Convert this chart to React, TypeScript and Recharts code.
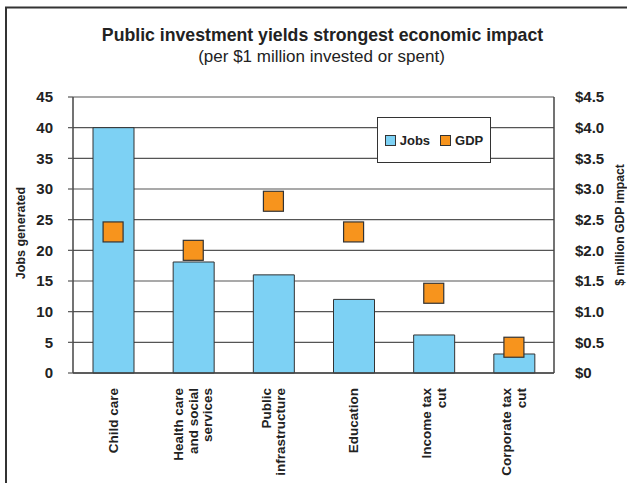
import React from "react";
import { ComposedChart, Bar, Line, XAxis, YAxis, CartesianGrid, Legend } from "recharts";

const CATEGORIES = [
  ["Child care"],
  ["Health care", "and social", "services"],
  ["Public", "infrastructure"],
  ["Education"],
  ["Income tax", "cut"],
  ["Corporate tax", "cut"],
];
const JOBS = [40, 18.1, 16, 12, 6.2, 3.1];
const GDP = [2.3, 2.0, 2.8, 2.3, 1.3, 0.42];
const JOBS_TICKS = [0, 5, 10, 15, 20, 25, 30, 35, 40, 45];
const GDP_TICKS = [0, 0.5, 1, 1.5, 2, 2.5, 3, 3.5, 4, 4.5];

const FONT = '"Liberation Sans", Arial, Helvetica, sans-serif';
const BLUE = "#7dd1f4";
const ORANGE = "#f7941d";
const INK = "#222";

const data = CATEGORIES.map((lines, i) => ({
  name: lines.join(" "),
  lines,
  jobs: JOBS[i],
  gdp: GDP[i],
}));

function CategoryTick(props: any) {
  const { x, payload, index } = props;
  const lines: string[] = data[index]?.lines ?? [payload.value];
  const y = 388;
  const step = 14.5;
  return (
    <g transform={`translate(${x},${y}) rotate(-90)`}>
      {lines.map((ln, i) => (
        <text
          key={i}
          x={0}
          y={(i - (lines.length - 1) / 2) * step}
          textAnchor="end"
          dominantBaseline="central"
          fontFamily={FONT}
          fontWeight="bold"
          fontSize={13.5}
          fill={INK}
        >
          {ln}
        </text>
      ))}
    </g>
  );
}

function SquareDot(props: any) {
  const { cx, cy } = props;
  if (cx == null || cy == null) return null;
  return <rect x={cx - 10} y={cy - 10} width={20} height={20} fill={ORANGE} stroke="#333" strokeWidth={1.2} />;
}

function LegendBox() {
  return (
    <div
      style={{
        width: 112,
        height: 44,
        border: "1px solid #333",
        background: "#fff",
        display: "flex",
        alignItems: "center",
        justifyContent: "center",
        fontFamily: FONT,
        fontWeight: "bold",
        fontSize: 13,
        color: INK,
        boxSizing: "content-box",
      }}
    >
      <span style={{ width: 9, height: 9, background: BLUE, border: "1px solid #333", marginRight: 4 }} />
      <span style={{ marginRight: 10 }}>Jobs</span>
      <span style={{ width: 9, height: 9, background: ORANGE, border: "1px solid #333", marginRight: 4 }} />
      <span>GDP</span>
    </div>
  );
}

export default function App() {
  return (
    <div style={{ position: "absolute", left: 0, top: 0, width: 627, height: 483, background: "#fff" }}>
      <ComposedChart width={627} height={483} data={data} margin={{ top: 97, right: 0, bottom: 0, left: 0 }}>
        <CartesianGrid vertical={false} stroke="#555" strokeWidth={1.2} yAxisId="jobs" />
        <XAxis
          dataKey="name"
          height={110}
          tickLine={false}
          axisLine={{ stroke: "#444", strokeWidth: 1.5 }}
          tick={<CategoryTick />}
          interval={0}
        />
        <YAxis
          yAxisId="jobs"
          orientation="left"
          width={73}
          domain={[0, 45]}
          ticks={JOBS_TICKS}
          interval={0}
          tickSize={5}
          tickMargin={15}
          tickLine={{ stroke: "#555", strokeWidth: 1.2 }}
          axisLine={{ stroke: "#444", strokeWidth: 1.5 }}
          tick={{ fontFamily: FONT, fontWeight: "bold", fontSize: 15, fill: INK }}
        />
        <YAxis
          yAxisId="gdp"
          orientation="right"
          width={73}
          domain={[0, 4.5]}
          ticks={GDP_TICKS}
          interval={0}
          tickSize={0}
          tickMargin={21}
          tickLine={false}
          axisLine={{ stroke: "#444", strokeWidth: 1.5 }}
          tickFormatter={(v: number) => (v === 0 ? "$0" : "$" + v.toFixed(1))}
          tick={{ fontFamily: FONT, fontWeight: "bold", fontSize: 15, fill: INK, textAnchor: "start" }}
        />
        <Legend
          layout="horizontal"
          verticalAlign="middle"
          align="center"
          content={() => <LegendBox />}
          wrapperStyle={{ left: 377, top: 117, width: 114, height: 46 }}
        />
        <Bar yAxisId="jobs" dataKey="jobs" barSize={41} fill={BLUE} stroke="#333" strokeWidth={1} isAnimationActive={false} />
        <Line
          yAxisId="gdp"
          dataKey="gdp"
          stroke="none"
          dot={<SquareDot />}
          activeDot={false}
          isAnimationActive={false}
        />
      </ComposedChart>
      <svg width={627} height={483} style={{ position: "absolute", left: 0, top: 0, pointerEvents: "none" }}>
        <path d="M6 483 V7.5 H627" fill="none" stroke="#333" strokeWidth={2} />
        <text x={322.5} y={41} textAnchor="middle" fontFamily={FONT} fontWeight="bold" fontSize={17.7} fill={INK}>
          Public investment yields strongest economic impact
        </text>
        <text x={321.5} y={62} textAnchor="middle" fontFamily={FONT} fontSize={17} fill={INK}>
          (per $1 million invested or spent)
        </text>
        <text
          transform="translate(21,233) rotate(-90)"
          textAnchor="middle"
          dominantBaseline="central"
          fontFamily={FONT}
          fontWeight="bold"
          fontSize={12.5}
          fill={INK}
        >
          Jobs generated
        </text>
        <text
          transform="translate(620,225) rotate(-90)"
          textAnchor="middle"
          dominantBaseline="central"
          fontFamily={FONT}
          fontWeight="bold"
          fontSize={12.2}
          fill={INK}
        >
          $ million GDP impact
        </text>
      </svg>
    </div>
  );
}
